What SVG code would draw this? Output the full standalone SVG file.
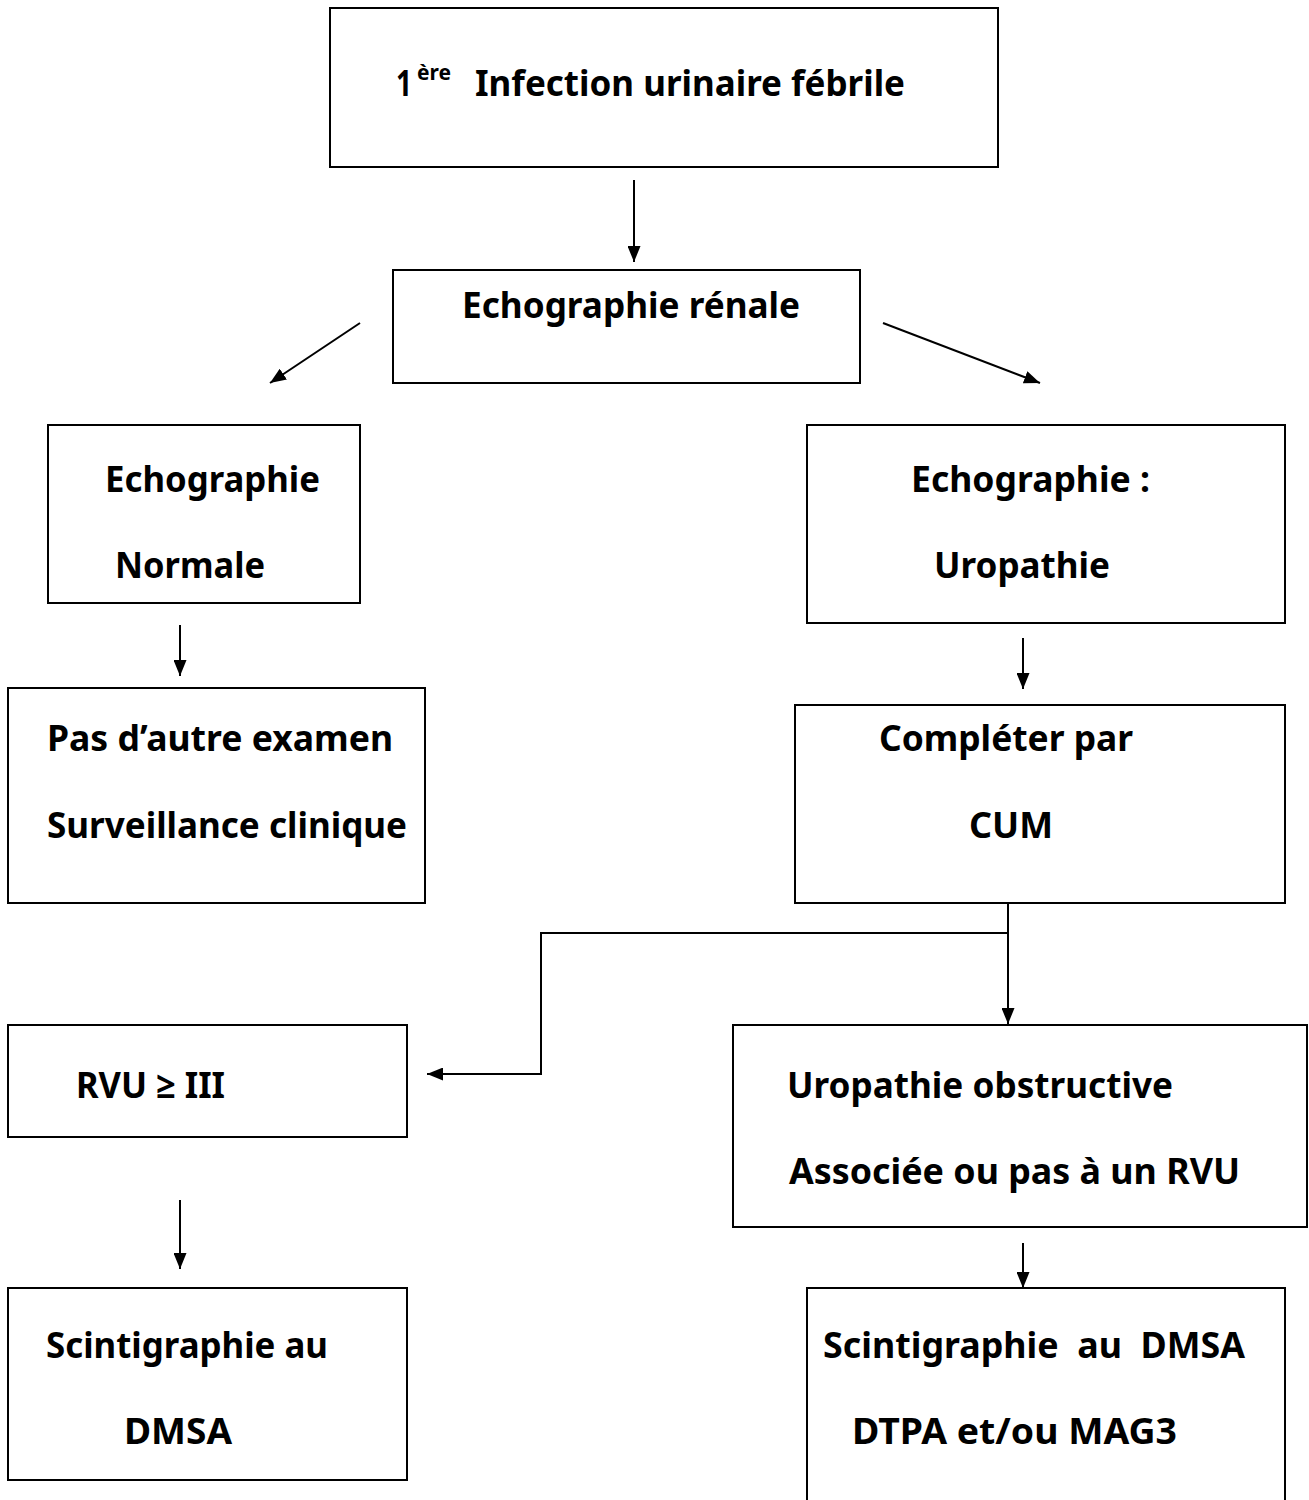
<svg xmlns="http://www.w3.org/2000/svg" width="1309" height="1500" viewBox="0 0 1309 1500">
<style>
.box{fill:#fff;stroke:#000;stroke-width:2}
.t{font-family:"Noto Sans","Open Sans","Liberation Sans",sans-serif;font-weight:bold;font-size:36px;fill:#000;white-space:pre}
.sup{font-size:21px}
.c{fill:none;stroke:#000;stroke-width:2}
</style>
<defs>
<marker id="ah" markerUnits="userSpaceOnUse" markerWidth="16" markerHeight="13" refX="16" refY="6.5" orient="auto">
<path d="M0,0 L16,6.5 L0,13 z" fill="#000"/>
</marker>
</defs>
<rect width="1309" height="1500" fill="#fff"/>
<g id="connectors">
<line class="c" x1="634" y1="180" x2="634" y2="262" marker-end="url(#ah)"/>
<line class="c" x1="360" y1="323" x2="270" y2="383" marker-end="url(#ah)"/>
<line class="c" x1="883" y1="323" x2="1040" y2="383" marker-end="url(#ah)"/>
<line class="c" x1="180" y1="625" x2="180" y2="676" marker-end="url(#ah)"/>
<line class="c" x1="1023" y1="638" x2="1023" y2="689" marker-end="url(#ah)"/>
<polyline class="c" points="1008,903 1008,1024" marker-end="url(#ah)"/>
<polyline class="c" points="1008,933 541,933 541,1074 427,1074" marker-end="url(#ah)"/>
<line class="c" x1="180" y1="1200" x2="180" y2="1269" marker-end="url(#ah)"/>
<line class="c" x1="1023" y1="1243" x2="1023" y2="1288" marker-end="url(#ah)"/>
</g>
<g id="n1">
<rect class="box" x="330" y="8" width="668" height="159"/>
<text class="t" x="396" y="96" textLength="16" lengthAdjust="spacingAndGlyphs">1</text>
<text class="t sup" x="417" y="80" textLength="34" lengthAdjust="spacingAndGlyphs">ère</text>
<text class="t" x="475" y="96" textLength="430" lengthAdjust="spacingAndGlyphs">Infection urinaire fébrile</text>
</g>
<g id="n2">
<rect class="box" x="393" y="270" width="467" height="113"/>
<text class="t" x="462" y="318" textLength="338" lengthAdjust="spacingAndGlyphs">Echographie rénale</text>
</g>
<g id="n3">
<rect class="box" x="48" y="425" width="312" height="178"/>
<text class="t" x="105" y="492" textLength="215" lengthAdjust="spacingAndGlyphs">Echographie</text>
<text class="t" x="115" y="578" textLength="150" lengthAdjust="spacingAndGlyphs">Normale</text>
</g>
<g id="n4">
<rect class="box" x="807" y="425" width="478" height="198"/>
<text class="t" x="911" y="492" textLength="239" lengthAdjust="spacingAndGlyphs">Echographie :</text>
<text class="t" x="934" y="578" textLength="176" lengthAdjust="spacingAndGlyphs">Uropathie</text>
</g>
<g id="n5">
<rect class="box" x="8" y="688" width="417" height="215"/>
<text class="t" x="47" y="751" textLength="346" lengthAdjust="spacingAndGlyphs">Pas d’autre examen</text>
<text class="t" x="47" y="838" textLength="360" lengthAdjust="spacingAndGlyphs">Surveillance clinique</text>
</g>
<g id="n6">
<rect class="box" x="795" y="705" width="490" height="198"/>
<text class="t" x="879" y="751" textLength="254" lengthAdjust="spacingAndGlyphs">Compléter par</text>
<text class="t" x="969" y="838" textLength="84" lengthAdjust="spacingAndGlyphs">CUM</text>
</g>
<g id="n7">
<rect class="box" x="8" y="1025" width="399" height="112"/>
<text class="t" x="76" y="1098" textLength="149" lengthAdjust="spacingAndGlyphs">RVU ≥ III</text>
</g>
<g id="n8">
<rect class="box" x="733" y="1025" width="574" height="202"/>
<text class="t" x="787" y="1098" textLength="386" lengthAdjust="spacingAndGlyphs">Uropathie obstructive</text>
<text class="t" x="789" y="1184" textLength="451" lengthAdjust="spacingAndGlyphs">Associée ou pas à un RVU</text>
</g>
<g id="n9">
<rect class="box" x="8" y="1288" width="399" height="192"/>
<text class="t" x="46" y="1358" textLength="282" lengthAdjust="spacingAndGlyphs">Scintigraphie au</text>
<text class="t" x="124" y="1444" textLength="108" lengthAdjust="spacingAndGlyphs">DMSA</text>
</g>
<g id="n10">
<rect class="box" x="807" y="1288" width="478" height="230"/>
<text class="t" x="823" y="1358" textLength="422" lengthAdjust="spacingAndGlyphs">Scintigraphie  au  DMSA</text>
<text class="t" x="852" y="1444" textLength="325" lengthAdjust="spacingAndGlyphs">DTPA et/ou MAG3</text>
</g>
</svg>
